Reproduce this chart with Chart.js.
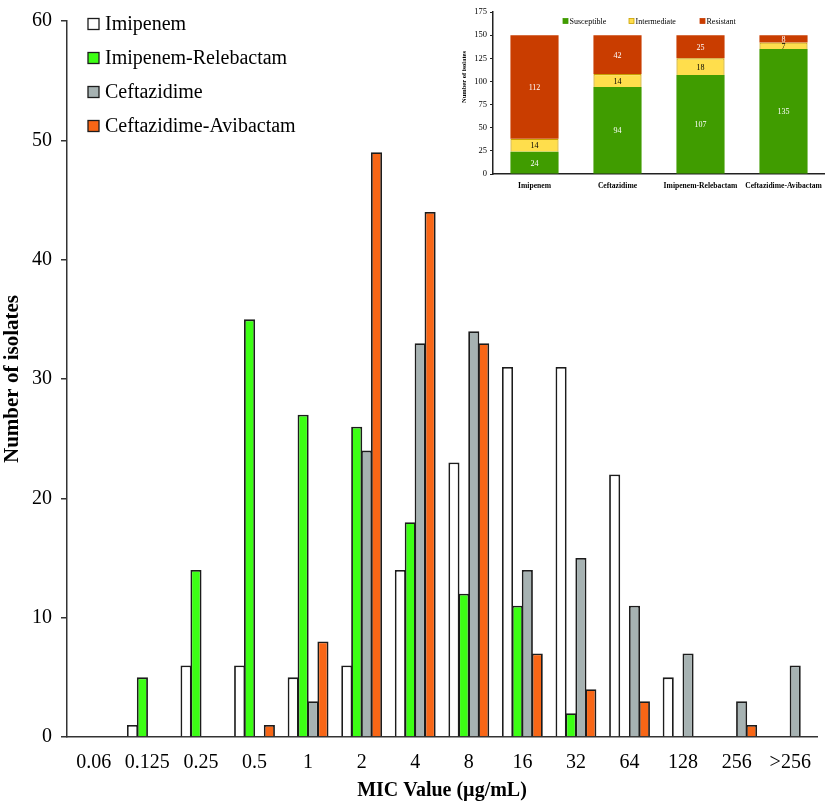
<!DOCTYPE html>
<html>
<head>
<meta charset="utf-8">
<script src="https://cdn.jsdelivr.net/npm/chart.js@4.4.0/dist/chart.umd.min.js"></script>
<style>
  body { margin: 0; background: #fff; }
  #wrap { position: relative; width: 825px; height: 806px; }
  #mainChart { position: absolute; left: 0; top: 0; }
  #insetChart { position: absolute; left: 458px; top: 0; background: #fff; }
</style>
</head>
<body>
<div id="wrap">
  <canvas id="mainChart" width="825" height="806"></canvas>
  <canvas id="insetChart" width="367" height="200"></canvas>
</div>
<script>
// main chart data
const micLabels = ['0.06', '0.125', '0.25', '0.5', '1', '2', '4', '8', '16', '32', '64', '128', '256', '>256'];
const imipenem = [0, 1, 6, 6, 5, 6, 14, 23, 31, 31, 22, 5, 0, 0];
const imiRelebactam = [0, 5, 14, 35, 27, 26, 18, 12, 11, 2, 0, 0, 0, 0];
const ceftazidime = [0, 0, 0, 0, 3, 24, 33, 34, 14, 15, 11, 7, 3, 6];
const cefAvibactam = [0, 0, 0, 1, 8, 49, 44, 33, 7, 4, 3, 0, 1, 0];
const yTicksMain = [0, 10, 20, 30, 40, 50, 60];

// inset data
const drugLabels = ['Imipenem', 'Ceftazidime', 'Imipenem-Relebactam', 'Ceftazidime-Avibactam'];
const susceptible = [24, 94, 107, 135];
const intermediate = [14, 14, 18, 7];
const resistant = [112, 42, 25, 8];
const yTicksInset = [0, 25, 50, 75, 100, 125, 150, 175];

const serif = "'Liberation Serif', 'Times New Roman', serif";
const edge = '#1c1c1c';

// legend drawn by hand so it can sit inside the plot
const boxLegend = {
    id: 'boxLegend',
    afterDraw(chart, args, opts) {
        if (!opts.xs) return;
        const ctx = chart.ctx;
        ctx.save();
        ctx.font = opts.font;
        ctx.textBaseline = 'middle';
        chart.data.datasets.forEach((ds, i) => {
            const x = opts.xs[i], y = opts.ys[i], s = opts.box;
            ctx.fillStyle = ds.backgroundColor;
            ctx.fillRect(x, y - s / 2, s, s);
            ctx.lineWidth = opts.lineWidth;
            ctx.strokeStyle = ds.legendEdge || edge;
            ctx.strokeRect(x, y - s / 2, s, s);
            ctx.fillStyle = '#000';
            ctx.fillText(ds.label, x + s + opts.gap, y + 1);
        });
        ctx.restore();
    }
};

// values in the middle of stacked segments
const segLabels = {
    id: 'segLabels',
    afterDatasetsDraw(chart, args, opts) {
        if (!opts.on) return;
        const ctx = chart.ctx;
        ctx.save();
        ctx.font = opts.font;
        ctx.textAlign = 'center';
        ctx.textBaseline = 'middle';
        chart.data.datasets.forEach((ds, i) => {
            const meta = chart.getDatasetMeta(i);
            ctx.fillStyle = ds.textColor;
            meta.data.forEach((el, j) => {
                ctx.fillText(String(ds.data[j]), el.x, (el.y + el.base) / 2 + 1);
            });
        });
        ctx.restore();
    }
};

// inset y title sits a bit above the middle of the axis
const sideTitle = {
    id: 'sideTitle',
    afterDraw(chart, args, opts) {
        if (!opts.text) return;
        const ctx = chart.ctx;
        ctx.save();
        ctx.font = opts.font;
        ctx.fillStyle = '#000';
        ctx.textAlign = 'center';
        ctx.textBaseline = 'middle';
        ctx.translate(opts.x, opts.y);
        ctx.rotate(-Math.PI / 2);
        ctx.fillText(opts.text, 0, 0);
        ctx.restore();
    }
};

Chart.register(boxLegend, segLabels, sideTitle);

function barSet(label, data, color) {
    return {
        label: label,
        data: data,
        backgroundColor: color,
        borderColor: edge,
        borderWidth: 1.8,
        categoryPercentage: 0.74,
        barPercentage: 1.12
    };
}

new Chart(document.getElementById('mainChart').getContext('2d'), {
    type: 'bar',
    data: {
        labels: micLabels,
        datasets: [
            barSet('Imipenem', imipenem, '#ffffff'),
            barSet('Imipenem-Relebactam', imiRelebactam, '#3cff14'),
            barSet('Ceftazidime', ceftazidime, '#a6b2b2'),
            barSet('Ceftazidime-Avibactam', cefAvibactam, '#f86616')
        ]
    },
    options: {
        responsive: false,
        animation: false,
        devicePixelRatio: 1,
        layout: { padding: { top: 10, right: 3, left: 0, bottom: 0 } },
        plugins: {
            legend: { display: false },
            tooltip: { enabled: false },
            boxLegend: {
                xs: [88, 88, 88, 88],
                ys: [24, 58, 92, 126],
                box: 11, gap: 6, lineWidth: 1.3,
                font: "20px " + serif
            },
            segLabels: { on: false },
            sideTitle: {}
        },
        scales: {
            x: {
                grid: { display: true, drawOnChartArea: false, drawTicks: false },
                border: { color: '#333', width: 1.5 },
                ticks: { color: '#000', padding: 14, font: { family: serif, size: 20 } },
                title: {
                    display: true, text: 'MIC Value (µg/mL)', color: '#000',
                    font: { family: serif, size: 20, weight: 'bold' },
                    padding: { top: 0, bottom: 3 }
                },
                afterFit: s => { s.height = 69; }
            },
            y: {
                min: 0, max: 60,
                afterBuildTicks: s => { s.ticks = yTicksMain.map(v => ({ value: v })); },
                grid: { drawOnChartArea: false, tickLength: 6, color: '#333', lineWidth: 1.5 },
                border: { color: '#333', width: 1.5 },
                ticks: { color: '#000', padding: 9, font: { family: serif, size: 20 } },
                title: {
                    display: true, text: 'Number of isolates', color: '#000',
                    font: { family: serif, size: 21, weight: 'bold' },
                    padding: { top: 0, bottom: 0 }
                },
                afterFit: s => { s.width = 67; }
            }
        }
    }
});

function stackSet(label, data, color, border, text) {
    return {
        label: label,
        data: data,
        backgroundColor: color,
        borderColor: border,
        borderWidth: border ? 1.2 : 0,
        legendEdge: border || color,
        textColor: text,
        categoryPercentage: 0.58,
        barPercentage: 1
    };
}

new Chart(document.getElementById('insetChart').getContext('2d'), {
    type: 'bar',
    data: {
        labels: drugLabels,
        datasets: [
            stackSet('Susceptible', susceptible, '#409c00', null, '#ffffff'),
            stackSet('Intermediate', intermediate, '#ffde4c', '#c9a000', '#000000'),
            stackSet('Resistant', resistant, '#c93d00', null, '#ffffff')
        ]
    },
    options: {
        responsive: false,
        animation: false,
        devicePixelRatio: 1,
        layout: { padding: { top: 12, right: 0, left: 0, bottom: 0 } },
        plugins: {
            legend: { display: false },
            tooltip: { enabled: false },
            boxLegend: {
                xs: [105, 171, 242],
                ys: [21, 21, 21],
                box: 5, gap: 1.5, lineWidth: 0.8,
                font: "8px " + serif
            },
            segLabels: { on: true, font: "8px " + serif },
            sideTitle: { text: 'Number of isolates', x: 6, y: 77, font: "bold 6.5px " + serif }
        },
        scales: {
            x: {
                stacked: true,
                grid: { display: true, drawOnChartArea: false, drawTicks: false },
                border: { color: '#222', width: 1.5 },
                ticks: { color: '#000', padding: 7, autoSkip: false, maxRotation: 0, font: { family: serif, size: 7.6, weight: 'bold' } },
                afterFit: s => { s.height = 26; s.paddingLeft = 0; s.paddingRight = 0; }
            },
            y: {
                stacked: true,
                min: 0, max: 175,
                afterBuildTicks: s => { s.ticks = yTicksInset.map(v => ({ value: v })); },
                grid: { drawOnChartArea: false, tickLength: 3, color: '#222' },
                border: { color: '#222', width: 1.5 },
                ticks: { color: '#000', padding: 3, font: { family: serif, size: 8.5 } },
                afterFit: s => { s.width = 35; s.paddingTop = 0; s.paddingBottom = 0; }
            }
        }
    }
});
</script>
</body>
</html>
